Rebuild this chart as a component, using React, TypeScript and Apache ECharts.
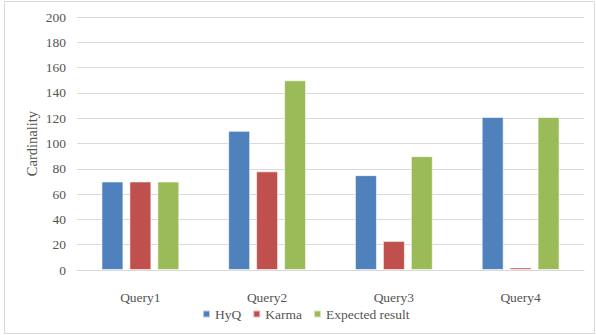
import React, { useEffect, useRef } from "react";
import * as echarts from "echarts";

const categories = ["Query1", "Query2", "Query3", "Query4"];
const hyq = [70, 110, 75, 121];
const karma = [70, 78, 23, 2];
const expected = [70, 150, 90, 121];
const seriesNames = ["HyQ", "Karma", "Expected result"];

const FONT = "'Liberation Serif', 'DejaVu Serif', serif";
const TXT = "#555555";
const FS = 13.5;

export default function App() {
  const ref = useRef<HTMLDivElement>(null);
  useEffect(() => {
    if (!ref.current) return;
    const chart = echarts.init(ref.current, undefined, { renderer: "svg" });
    const bar = (name: string, data: number[], color: string) => ({
      name,
      type: "bar",
      data,
      barWidth: 22,
      barGap: "27%",
      itemStyle: { color, borderColor: "rgba(255,255,255,0.6)", borderWidth: 1 },
    });
    chart.setOption({
      animation: false,
      textStyle: { fontFamily: FONT },
      graphic: [
        {
          type: "rect",
          shape: { x: 4.5, y: 1.5, width: 590, height: 332 },
          style: { fill: "none", stroke: "#d9d9d9", lineWidth: 1 },
          silent: true,
        },
      ],
      grid: { left: 77, right: 12, top: 17, bottom: 65, containLabel: false },
      legend: {
        data: seriesNames,
        bottom: 9,
        left: 197,
        itemWidth: 7,
        itemHeight: 7,
        itemGap: 11,
        icon: "rect",
        textStyle: { color: TXT, fontSize: FS, fontFamily: FONT },
      },
      xAxis: {
        type: "category",
        data: categories,
        axisLine: { lineStyle: { color: "#d9d9d9", width: 1 } },
        axisTick: { show: false },
        axisLabel: { color: TXT, fontSize: FS, fontFamily: FONT, margin: 20 },
      },
      yAxis: {
        type: "value",
        min: 0,
        max: 200,
        interval: 20,
        name: "Cardinality",
        nameLocation: "middle",
        nameGap: 38,
        nameMoveOverlap: false,
        nameRotate: 90,
        nameTextStyle: { color: TXT, fontSize: 14.5, fontFamily: FONT },
        axisLine: { show: false },
        axisTick: { show: false },
        axisLabel: { color: TXT, fontSize: FS, fontFamily: FONT, margin: 11 },
        splitLine: { lineStyle: { color: "#d9d9d9", width: 1 } },
      },
      series: [
        bar(seriesNames[0], hyq, "#4F81BD"),
        bar(seriesNames[1], karma, "#C0504D"),
        bar(seriesNames[2], expected, "#9BBB59"),
      ],
    });
    return () => chart.dispose();
  }, []);
  return <div ref={ref} style={{ width: 596, height: 335, position: "absolute", left: 0, top: 0 }} />;
}
